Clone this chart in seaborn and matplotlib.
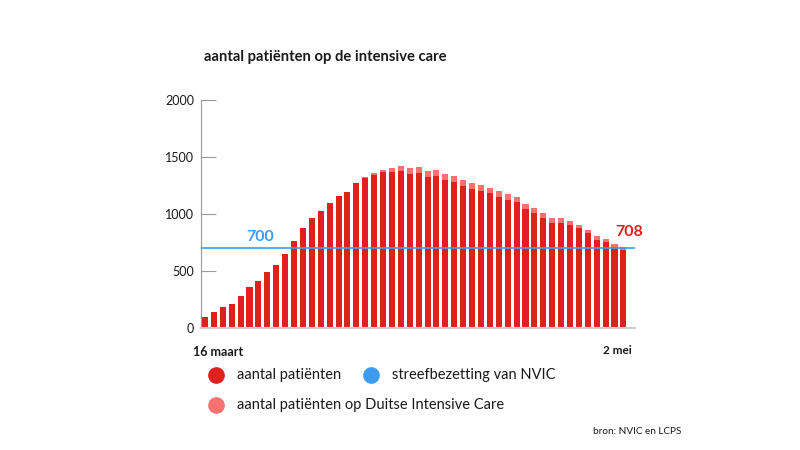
import matplotlib
matplotlib.use("Agg")
import matplotlib.pyplot as plt
import seaborn as sns
import pandas as pd
import numpy as np
from matplotlib.lines import Line2D

# ---- data ----
days = list(range(48))  # 16 maart .. 2 mei
nl_patients = [101, 142, 183, 215, 285, 358, 410, 491, 552, 648,
               764, 878, 968, 1024, 1099, 1155, 1192, 1271, 1320, 1346,
               1367, 1370, 1375, 1355, 1358, 1326, 1332, 1300, 1279, 1244,
               1224, 1204, 1181, 1149, 1126, 1105, 1041, 1009, 968, 925,
               925, 901, 875, 834, 777, 753, 712, 690]
total_patients = [101, 142, 183, 215, 285, 358, 410, 491, 552, 648,
                  764, 878, 968, 1024, 1099, 1155, 1192, 1271, 1325, 1361,
                  1384, 1408, 1420, 1406, 1415, 1381, 1387, 1355, 1335, 1300,
                  1277, 1256, 1233, 1201, 1175, 1154, 1091, 1052, 1012, 965,
                  962, 939, 907, 864, 808, 785, 738, 708]
target = 700
y_ticks = [0, 500, 1000, 1500, 2000]
first_label = "16 maart"
last_label = "2 mei"
title = "aantal patiënten op de intensive care"
legend_labels = ["aantal patiënten", "streefbezetting van NVIC",
                 "aantal patiënten op Duitse Intensive Care"]
source = "bron: NVIC en LCPS"

DARK = "#e0201c"
LIGHT = "#f87171"
BLUE = "#3d9bf0"
TXT = "#1a1a1a"

sns.set_theme(style="white")
plt.rcParams['font.family'] = ['Lato', 'DejaVu Sans']

df = pd.DataFrame({"day": days, "nl": nl_patients, "total": total_patients})

W, H = 800, 450
fig = plt.figure(figsize=(8, 4.5), dpi=100)
ax = fig.add_axes([201 / W, (H - 328.3) / H, 434 / W, 228.3 / H])

sns.barplot(data=df, x="day", y="total", color=LIGHT, width=0.68,
            native_scale=True, ax=ax, saturation=1, edgecolor="none")
sns.barplot(data=df, x="day", y="nl", color=DARK, width=0.68,
            native_scale=True, ax=ax, saturation=1, edgecolor="none")

ax.axhline(target, color=BLUE, lw=1.2, zorder=5)

ax.set_xlim(-0.45, 48.3)
ax.set_ylim(0, 2000)
ax.set_yticks(y_ticks)
ax.set_yticklabels([str(v) for v in y_ticks], fontsize=9, color=TXT)
ax.tick_params(axis="y", direction="in", length=11, width=0.8, color="#999999", pad=5, left=True)
ax.set_xticks([])
ax.set_xlabel("")
ax.set_ylabel("")
for s in ["top", "right"]:
    ax.spines[s].set_visible(False)
ax.spines["left"].set_color("#999999")
ax.spines["left"].set_linewidth(0.8)
ax.spines["bottom"].set_color("#cccccc")
ax.spines["bottom"].set_linewidth(1.5)

# labels on chart
ax.text(6.2, target + 40, str(target), color=BLUE, fontsize=11.5, fontweight="bold",
        ha="center", va="bottom")
ax.text(46.1, total_patients[-1] + 75, str(total_patients[-1]), color=DARK,
        fontsize=11.5, fontweight="bold", ha="left", va="bottom")


def fx(px):
    return px / W


def fy(py):
    return 1 - py / H


fig.text(fx(204), fy(57), title, fontsize=10.6, fontweight="bold", color=TXT, va="center", ha="left")
fig.text(fx(193), fy(352), first_label, fontsize=9, fontweight="bold", color=TXT, va="center", ha="left")
fig.text(fx(632), fy(351), last_label, fontsize=8.5, fontweight="bold", color=TXT, va="center", ha="right")

# legend
leg = [(216, 375, DARK, legend_labels[0]), (371, 375, BLUE, legend_labels[1]),
       (216, 405, LIGHT, legend_labels[2])]
for x, y, c, lab in leg:
    fig.add_artist(Line2D([fx(x)], [fy(y)], marker="o", markersize=11, color=c,
                          linestyle="none", transform=fig.transFigure))
    fig.text(fx(x + 21), fy(y), lab, fontsize=10.5, color=TXT, va="center", ha="left")

fig.text(fx(681), fy(432), source, fontsize=7.2, color=TXT, va="center", ha="right")

fig.savefig("out.png", dpi=100, facecolor="white")
